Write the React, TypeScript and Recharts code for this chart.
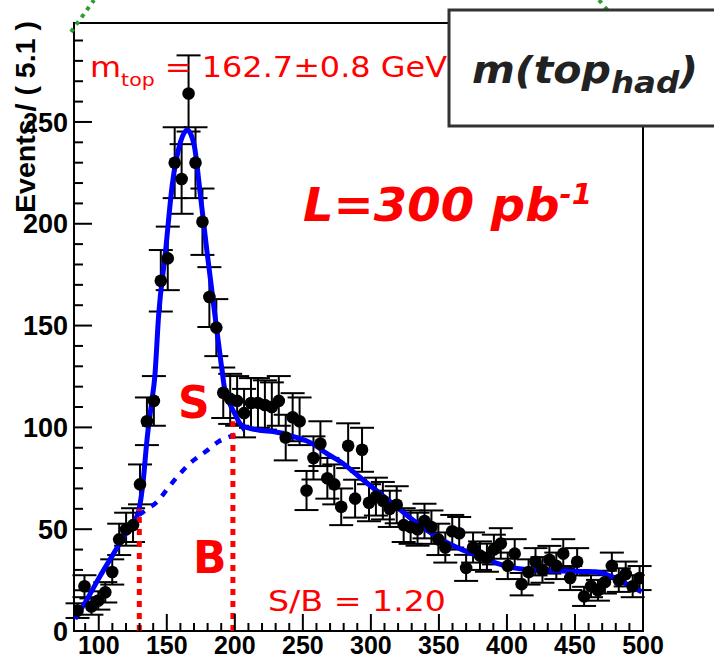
import React from 'react';
import {
  ComposedChart,
  Scatter,
  Line,
  XAxis,
  YAxis,
  ErrorBar,
  ReferenceLine,
  ReferenceArea,
} from 'recharts';

// Histogram bin centres (GeV), bin width 5.1
const binCenters = [
  84.4, 89.5, 94.6, 99.7, 104.8, 109.9, 115.0, 120.1, 125.2, 130.3,
  135.4, 140.5, 145.6, 150.7, 155.8, 160.9, 166.0, 171.1, 176.2, 181.3,
  186.4, 191.5, 196.6, 201.7, 206.8, 211.9, 217.0, 222.1, 227.2, 232.3,
  237.4, 242.5, 247.6, 252.7, 257.8, 262.9, 268.0, 273.1, 278.2, 283.3,
  288.4, 293.5, 298.6, 303.7, 308.8, 313.9, 319.0, 324.1, 329.2, 334.3,
  339.4, 344.5, 349.6, 354.7, 359.8, 364.9, 370.0, 375.1, 380.2, 385.3,
  390.4, 395.5, 400.6, 405.7, 410.8, 415.9, 421.0, 426.1, 431.2, 436.3,
  441.4, 446.5, 451.6, 456.7, 461.8, 466.9, 472.0, 477.1, 482.2, 487.3,
  492.4, 497.5,
];

// Events per bin
const events = [
  10, 22, 12, 15, 19, 29, 45, 50, 52, 72,
  103, 113, 172, 183, 230, 222, 264, 230, 201, 164,
  149, 117, 114, 113, 107, 112, 112, 111, 110, 113,
  95, 105, 103, 69, 85, 92, 75, 72, 61, 91,
  65, 89, 63, 66, 64, 60, 62, 52, 51, 50,
  54, 51, 45, 41, 49, 48, 31, 41, 37, 36,
  40, 43, 32, 38, 23, 29, 34, 30, 35, 32,
  38, 26, 34, 17, 22, 20, 24, 32, 25, 28,
  22, 26,
];

// Error bar half-lengths
const errors = [
  3.6, 5.4, 4.0, 4.5, 5.0, 6.2, 7.7, 8.1, 8.3, 9.8,
  11.7, 12.2, 15.1, 15.6, 17.4, 17.1, 18.7, 17.4, 16.3, 14.7,
  14.0, 12.4, 12.3, 12.2, 11.9, 12.2, 12.2, 12.1, 12.1, 12.2,
  11.2, 11.8, 11.7, 9.6, 10.6, 11.0, 10.0, 9.8, 9.0, 11.0,
  9.3, 10.8, 9.1, 9.3, 9.2, 8.9, 9.1, 8.3, 8.2, 8.1,
  8.5, 8.2, 7.7, 7.4, 8.0, 8.0, 6.4, 7.4, 7.0, 6.9,
  7.3, 7.5, 6.5, 7.1, 5.5, 6.2, 6.7, 6.3, 6.8, 6.5,
  7.1, 5.9, 6.7, 4.7, 5.4, 5.1, 5.6, 6.5, 5.8, 6.1,
  5.4, 5.9,
];

// Signal + background fit (solid)
const fitX = [
  82.5, 90, 101, 110, 119, 125, 129, 132.7, 135.3, 138.8,
  141.2, 144, 149, 154, 160, 165, 170, 174.7, 179.6, 185.6,
  190, 193, 196, 199, 205, 211, 220, 228, 243, 257,
  268, 279, 291, 304, 316, 328, 340, 353, 365, 378,
  394, 405, 418, 440, 460, 470, 477, 483, 489, 494, 499,
];
const fitY = [
  6, 14, 27, 37, 47, 53, 58, 74, 93, 112,
  125, 155, 186, 219, 240, 246, 239, 214, 186, 154,
  131, 117, 112, 108, 101, 99.5, 98.5, 98, 95.5, 92,
  87, 82.5, 76, 69, 62.5, 56, 50, 44.5, 40.5, 37,
  33, 31, 30, 29.5, 29.2, 28.5, 26.7, 25, 22.6, 21, 19.3,
];

// Background-only fit (dashed), under the peak
const bkgX = [129.5, 136, 143, 150.3, 158.8, 167.3, 178.3, 188, 201.5, 206];
const bkgY = [57, 60, 63.5, 69.7, 76.6, 82.5, 88, 93, 97, 99];

// Signal window
const windowLow = 129.8;
const windowLowTop = 60;
const windowHigh = 198.6;
const windowHighTop = 103;

const xTicks = [
  90, 100, 110, 120, 130, 140, 150, 160, 170, 180, 190, 200, 210, 220, 230,
  240, 250, 260, 270, 280, 290, 300, 310, 320, 330, 340, 350, 360, 370, 380,
  390, 400, 410, 420, 430, 440, 450, 460, 470, 480, 490, 500,
];
const yTicks = [
  0, 10, 20, 30, 40, 50, 60, 70, 80, 90, 100, 110, 120, 130, 140, 150,
  160, 170, 180, 190, 200, 210, 220, 230, 240, 250, 260, 270, 280, 290,
];
const xMajor = [100, 150, 200, 250, 300, 350, 400, 450, 500];
const yMajor = [0, 50, 100, 150, 200, 250];

const X_DOMAIN: [number, number] = [81.8, 500];
const Y_DOMAIN: [number, number] = [0, 298.6];

const histData = binCenters.map((x, i) => ({ x, y: events[i], err: errors[i] }));
const fitData = fitX.map((x, i) => ({ x, y: fitY[i] }));
const bkgData = bkgX.map((x, i) => ({ x, y: bkgY[i] }));

const TICK_FONT = "'Liberation Sans', Arial, sans-serif";
const ANN_FONT = "'DejaVu Sans', Verdana, sans-serif";

const YTick = (props: any) => {
  const { x, y, payload } = props;
  const v = payload.value;
  const major = yMajor.includes(v);
  return (
    <g>
      <line x1={x} x2={x + (major ? 18 : 9)} y1={y} y2={y} stroke="#000" strokeWidth={2} />
      {major && (
        <text
          x={x - 6}
          y={y}
          dy="0.36em"
          textAnchor="end"
          fontSize={27}
          fontWeight="bold"
          fontFamily={TICK_FONT}
          fill="#000"
        >
          {v}
        </text>
      )}
    </g>
  );
};

const XTick = (props: any) => {
  const { x, y, payload } = props;
  const v = payload.value;
  const major = xMajor.includes(v);
  return (
    <g>
      <line x1={x} x2={x} y1={y} y2={y - (major ? 17 : 8)} stroke="#000" strokeWidth={2} />
      {major && (
        <text
          x={x}
          y={y + 23}
          textAnchor="middle"
          fontSize={25}
          fontWeight="bold"
          fontFamily={TICK_FONT}
          fill="#000"
        >
          {v}
        </text>
      )}
    </g>
  );
};

const Dot = (p: any) => <circle cx={p.cx} cy={p.cy} r={6.3} fill="#000" />;

export default function App() {
  return (
    <div style={{ position: 'absolute', left: 0, top: 0, width: 714, height: 661, background: '#fff' }}>
      <ComposedChart
        width={714}
        height={661}
        margin={{ top: 23, right: 71, bottom: 0, left: 0 }}
      >
        <XAxis
          dataKey="x"
          type="number"
          domain={X_DOMAIN}
          ticks={xTicks}
          interval={0}
          allowDataOverflow
          height={30}
          tickSize={0}
          tickMargin={0}
          tickLine={false}
          axisLine={false}
          tick={<XTick />}
        />
        <YAxis
          type="number"
          domain={Y_DOMAIN}
          ticks={yTicks}
          interval={0}
          allowDataOverflow
          width={74}
          tickSize={0}
          tickMargin={0}
          tickLine={false}
          axisLine={false}
          tick={<YTick />}
        />
        <ReferenceArea
          x1={X_DOMAIN[0]}
          x2={X_DOMAIN[1]}
          y1={Y_DOMAIN[0]}
          y2={Y_DOMAIN[1]}
          fill="none"
          fillOpacity={0}
          stroke="#000"
          strokeWidth={2}
        />
        <Scatter data={histData} dataKey="y" shape={<Dot />} isAnimationActive={false}>
          <ErrorBar dataKey="err" direction="y" width={12} stroke="#000" strokeWidth={2} isAnimationActive={false} />
        </Scatter>
        <Line
          data={bkgData}
          dataKey="y"
          type="monotone"
          stroke="#0000ff"
          strokeWidth={4.5}
          strokeDasharray="7 8"
          dot={false}
          isAnimationActive={false}
        />
        <Line
          data={fitData}
          dataKey="y"
          type="monotone"
          stroke="#0000ff"
          strokeWidth={5}
          dot={false}
          isAnimationActive={false}
        />
        <ReferenceLine
          segment={[{ x: windowLow, y: 0 }, { x: windowLow, y: windowLowTop }]}
          stroke="#ff0000"
          strokeWidth={5}
          strokeDasharray="6 6"
        />
        <ReferenceLine
          segment={[{ x: windowHigh, y: 0 }, { x: windowHigh, y: windowHighTop }]}
          stroke="#ff0000"
          strokeWidth={5}
          strokeDasharray="6 6"
        />
      </ComposedChart>
      <svg
        width={714}
        height={661}
        style={{ position: 'absolute', left: 0, top: 0, pointerEvents: 'none' }}
      >
        {/* decorative green dotted strokes */}
        <line x1={71} y1={32} x2={94} y2={0} stroke="#2e9e2e" strokeWidth={4} strokeDasharray="4 5" />
        <line x1={599} y1={0} x2={614} y2={18} stroke="#2e9e2e" strokeWidth={4} strokeDasharray="4 5" />

        <text
          x={35}
          y={213}
          transform="rotate(-90 35 213)"
          fontSize={28}
          fontWeight="bold"
          fontFamily={TICK_FONT}
          fill="#000"
          textLength={192}
          lengthAdjust="spacingAndGlyphs"
        >
          Events / ( 5.1 )
        </text>

        <text
          x={90}
          y={77}
          fontSize={28}
          fontFamily={ANN_FONT}
          fill="#ff0000"
          textLength={357}
          lengthAdjust="spacingAndGlyphs"
        >
          m<tspan dy={9} fontSize={18}>top</tspan>
          <tspan dy={-9}> = 162.7±0.8 GeV</tspan>
        </text>

        <text
          x={303}
          y={221}
          fontSize={46}
          fontWeight="bold"
          fontStyle="italic"
          fontFamily={ANN_FONT}
          fill="#ff0000"
          textLength={289}
          lengthAdjust="spacingAndGlyphs"
        >
          L=300 pb<tspan dy={-17} fontSize={28}>-1</tspan>
        </text>

        <text x={178} y={418} fontSize={44} fontWeight="bold" fontFamily={ANN_FONT} fill="#ff0000">
          S
        </text>
        <text x={193} y={573} fontSize={44} fontWeight="bold" fontFamily={ANN_FONT} fill="#ff0000">
          B
        </text>
        <text
          x={268}
          y={611}
          fontSize={28}
          fontFamily={ANN_FONT}
          fill="#ff0000"
          textLength={178}
          lengthAdjust="spacingAndGlyphs"
        >
          S/B = 1.20
        </text>

        <rect x={449} y={10} width={280} height={116} fill="#fff" stroke="#333" strokeWidth={3} />
        <text
          x={472}
          y={83}
          fontSize={38}
          fontWeight="bold"
          fontStyle="italic"
          fontFamily={ANN_FONT}
          fill="#222"
          textLength={226}
          lengthAdjust="spacingAndGlyphs"
        >
          m(top<tspan dy={10} fontSize={30}>had</tspan>
          <tspan dy={-10}>)</tspan>
        </text>
      </svg>
    </div>
  );
}
